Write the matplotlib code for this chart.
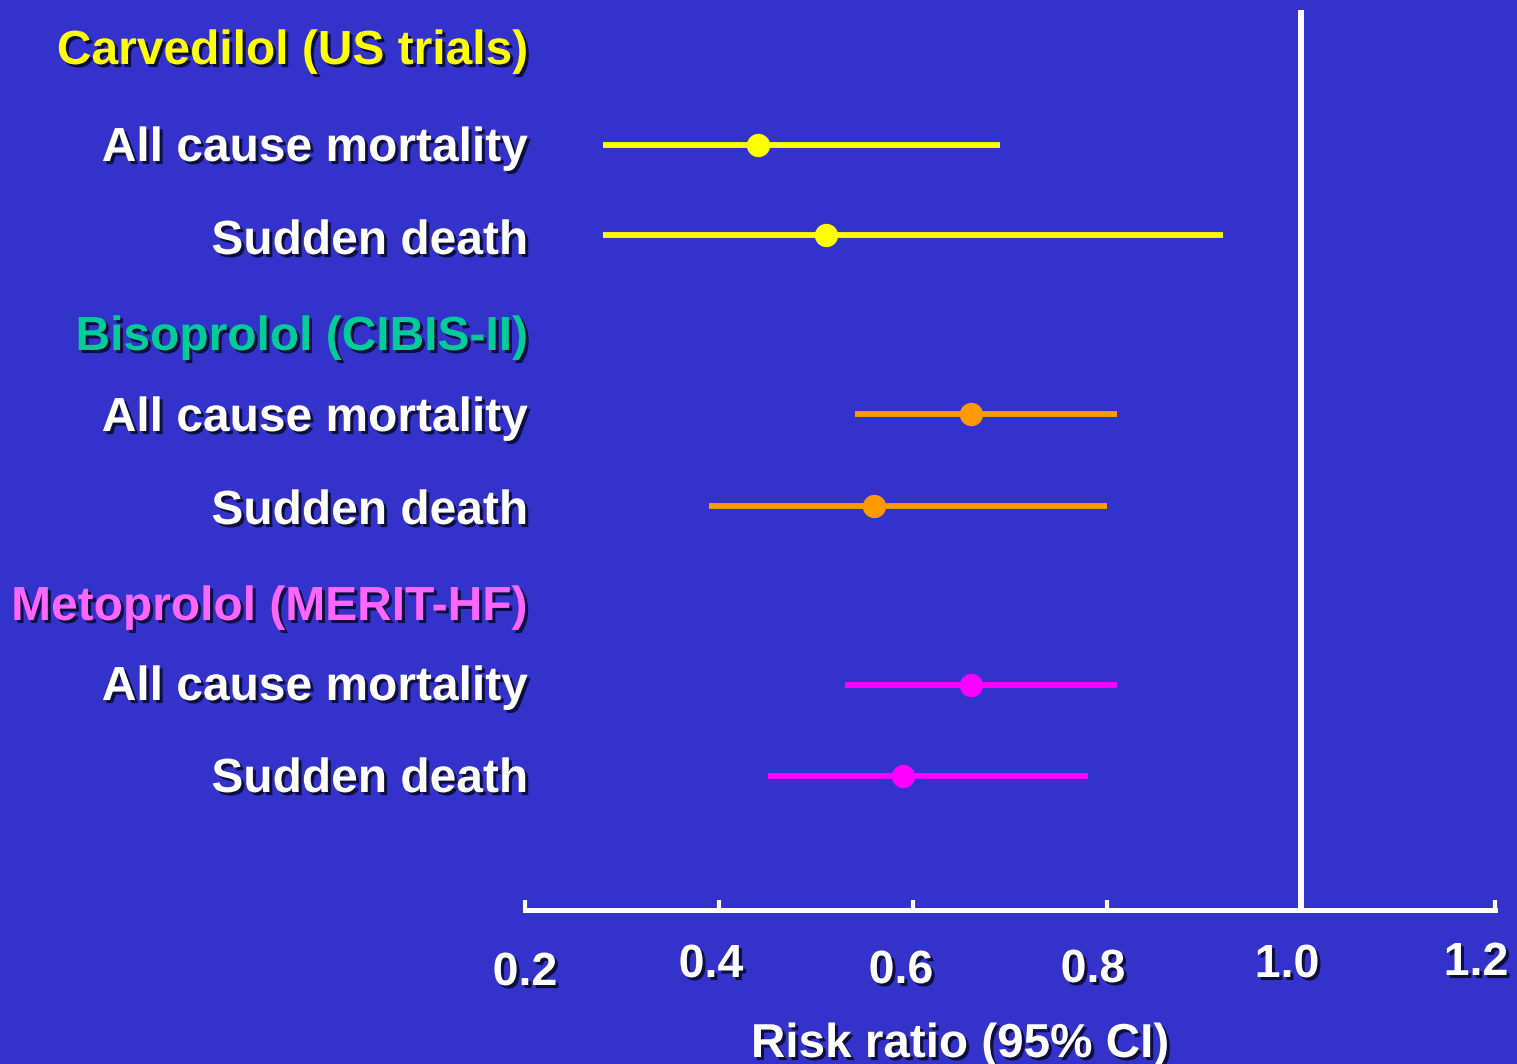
import matplotlib
matplotlib.use("Agg")
import matplotlib.pyplot as plt
import matplotlib.patheffects as pe
from matplotlib.transforms import offset_copy

# ---- data -------------------------------------------------------------
groups = ["Carvedilol (US trials)", "Bisoprolol (CIBIS-II)", "Metoprolol (MERIT-HF)"]
outcomes = ["All cause mortality", "Sudden death"]
estimate = [[0.44, 0.51], [0.66, 0.56], [0.66, 0.59]]
ci_low = [[0.28, 0.28], [0.54, 0.39], [0.53, 0.45]]
ci_high = [[0.69, 0.92], [0.81, 0.80], [0.81, 0.78]]
tick_values = [0.2, 0.4, 0.6, 0.8, 1.0, 1.2]
tick_labels = ["0.2", "0.4", "0.6", "0.8", "1.0", "1.2"]
x_label = "Risk ratio (95% CI)"

# ---- styling / layout -------------------------------------------------
BG = "#3333CC"
header_colors = ["#FFFF00", "#00CC99", "#FF66FF"]
mark_colors = ["#FFFF00", "#FF9900", "#FF00FF"]
FONT = "Liberation Sans"

W, H = 1517, 1064
AX_LEFT, AX_RIGHT, AX_TOP, AX_BOTTOM = 525, 1495, 10, 910  # pixel frame
header_y = [64, 350, 620]              # baselines of group headings
row_y = [[145, 235], [414, 506], [685, 776]]  # centres of the CI rows
label_drop = [[16, 19], [17, 18], [15, 16]]   # baseline below row centre
tick_dx = [0, -8, -12, -14, -14, -19]  # horizontal nudge of tick labels
tick_base = [985, 977, 983, 982, 977, 975]

shadow = [pe.SimplePatchShadow(offset=(2.2, -2.2), shadow_rgbFace="#0a0a30", alpha=0.9),
          pe.Normal()]

fig = plt.figure(figsize=(W / 100, H / 100), dpi=100, facecolor=BG)
ax = fig.add_axes([AX_LEFT / W, (H - AX_BOTTOM) / H,
                   (AX_RIGHT - AX_LEFT) / W, (AX_BOTTOM - AX_TOP) / H])
ax.set_facecolor(BG)
ax.set_xlim(tick_values[0], tick_values[-1])
ax.set_ylim(AX_BOTTOM, AX_TOP)

# reference line at RR = 1
ax.axvline(1.0, color="white", lw=4.3, solid_capstyle="butt", zorder=3)

# confidence intervals and point estimates
for g in range(len(groups)):
    for r in range(len(outcomes)):
        y = row_y[g][r]
        ax.plot([ci_low[g][r], ci_high[g][r]], [y, y], color=mark_colors[g],
                lw=4.2, solid_capstyle="butt", zorder=4)
        ax.plot(estimate[g][r], y, "o", color=mark_colors[g], ms=16.8,
                mec="none", zorder=5)

# row labels, right-aligned just left of the axis
lab_tr = offset_copy(ax.get_yaxis_transform(), fig=fig, x=3, y=0, units="dots")
for g, name in enumerate(groups):
    ax.text(0, header_y[g], name, transform=lab_tr, ha="right", va="baseline",
            fontsize=34.5, fontweight="bold", family=FONT,
            color=header_colors[g], path_effects=shadow, clip_on=False)
    for r, outcome in enumerate(outcomes):
        ax.text(0, row_y[g][r] + label_drop[g][r], outcome, transform=lab_tr,
                ha="right", va="baseline", fontsize=34.5, fontweight="bold",
                family=FONT, color="white", path_effects=shadow, clip_on=False)

# axis: bottom spine with upward ticks
for side in ("left", "right", "top"):
    ax.spines[side].set_visible(False)
ax.spines["bottom"].set_color("white")
ax.spines["bottom"].set_linewidth(3.6)
ax.set_xticks(tick_values)
ax.set_xticklabels([])
ax.tick_params(axis="x", direction="in", length=7, width=3, color="white")
ax.set_yticks([])

# tick labels, drawn individually
for v, lab, dx, base in zip(tick_values, tick_labels, tick_dx, tick_base):
    tr = offset_copy(ax.transData, fig=fig, x=dx, y=0, units="dots")
    ax.text(v, base, lab, transform=tr, ha="center", va="baseline",
            fontsize=33.5, fontweight="bold", family=FONT, color="white",
            path_effects=shadow, clip_on=False)

fig.text(960 / W, 1 - 1057 / H, x_label, ha="center", va="baseline",
         fontsize=34.3, fontweight="bold", family=FONT, color="white",
         path_effects=shadow)

fig.savefig("out.png", dpi=100, facecolor=BG)
